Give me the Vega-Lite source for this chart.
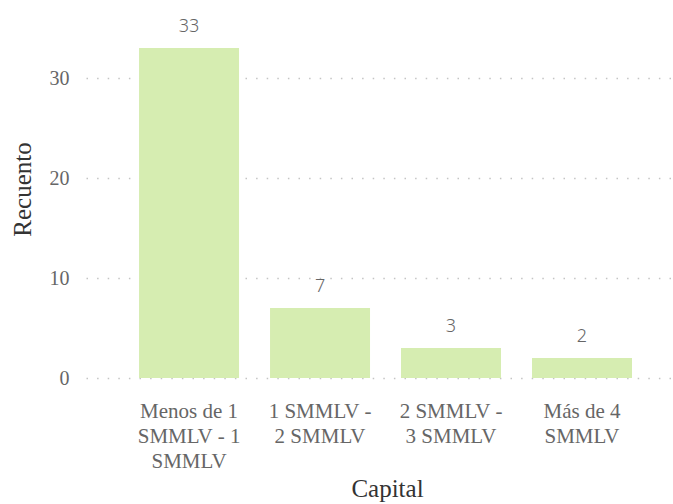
{
  "$schema": "https://vega.github.io/schema/vega-lite/v6.json",
  "width": 587,
  "height": 378,
  "autosize": {"type": "none"},
  "padding": {"left": 86, "top": 0, "right": 0, "bottom": 126},
  "background": "white",
  "config": {"view": {"stroke": null}},
  "data": {"values": [
    {"Capital": "Menos de 1 SMMLV - 1 SMMLV", "Recuento": 33},
    {"Capital": "1 SMMLV - 2 SMMLV", "Recuento": 7},
    {"Capital": "2 SMMLV - 3 SMMLV", "Recuento": 3},
    {"Capital": "Más de 4 SMMLV", "Recuento": 2}
  ]},
  "encoding": {
    "x": {
      "field": "Capital", "type": "nominal", "sort": null,
      "scale": {"paddingInner": 0.2366, "paddingOuter": 0.359, "align": 0.564},
      "axis": {
        "title": "Capital",
        "labelAngle": 0,
        "labelExpr": "datum.value == 'Menos de 1 SMMLV - 1 SMMLV' ? ['Menos de 1', 'SMMLV - 1', 'SMMLV'] : datum.value == '1 SMMLV - 2 SMMLV' ? ['1 SMMLV -', '2 SMMLV'] : datum.value == '2 SMMLV - 3 SMMLV' ? ['2 SMMLV -', '3 SMMLV'] : ['Más de 4', 'SMMLV']",
        "labelFont": "Liberation Serif",
        "labelFontSize": 21,
        "labelLineHeight": 25,
        "labelColor": "#666666",
        "labelPadding": 22,
        "labelBaseline": "top",
        "ticks": false,
        "domain": false,
        "grid": false,
        "titleFont": "Liberation Serif",
        "titleFontSize": 25,
        "titleFontWeight": "normal",
        "titleColor": "#333333",
        "titlePadding": 5,
        "titleX": 301
      }
    },
    "y": {
      "field": "Recuento", "type": "quantitative",
      "scale": {"domain": [0, 37.8], "nice": false},
      "axis": {
        "title": "Recuento",
        "values": [0, 10, 20, 30],
        "labelFont": "Liberation Serif",
        "labelFontSize": 20,
        "labelColor": "#666666",
        "labelPadding": 17,
        "ticks": false,
        "domain": false,
        "grid": true,
        "gridColor": "#c4c4c4",
        "gridDash": [1.5, 9.1],
        "gridWidth": 1.5,
        "titleFont": "Liberation Serif",
        "titleFontSize": 25,
        "titleFontWeight": "normal",
        "titleColor": "#333333",
        "titlePadding": 14
      }
    }
  },
  "layer": [
    {"mark": {"type": "bar", "color": "#d6edb1"}},
    {
      "mark": {"type": "text", "font": "Noto Sans", "fontSize": 18, "fontWeight": 300, "color": "#666666", "baseline": "alphabetic", "dy": -16},
      "encoding": {"text": {"field": "Recuento", "type": "quantitative"}}
    }
  ]
}
